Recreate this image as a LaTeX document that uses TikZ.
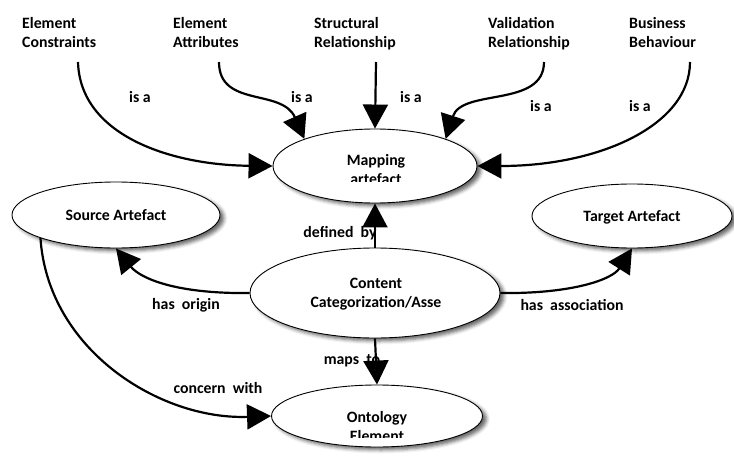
\documentclass[tikz,border=0pt]{standalone}
\usepackage{fontspec}
\setmainfont{Carlito}
\usetikzlibrary{arrows.meta,shapes.geometric,shadows.blur}
\newcommand{\tl}{\rule{0pt}{11.5pt}}
\tikzset{
  lbl/.style={font=\bfseries\fontsize{15.8}{19}\selectfont, inner sep=0pt},
  ell/.style={ellipse, draw, line width=0.9pt, fill=white, inner sep=0pt,
    blur shadow={shadow xshift=4pt, shadow yshift=-3pt, shadow blur radius=3.5pt, shadow opacity=60}},
  arr/.style={line width=2.2pt, -{Triangle[length=24pt,width=25pt]}},
}
\begin{document}
\begin{tikzpicture}[x=1pt,y=-1pt]
\useasboundingbox (0,0) rectangle (734,458);
% ellipses
\node[ell, minimum width=204pt, minimum height=74pt] (map) at (375,166) {};
\node[ell, minimum width=208pt, minimum height=66pt] (src) at (116,215) {};
\node[ell, minimum width=200pt, minimum height=64pt] (tgt) at (632,216) {};
\node[ell, minimum width=250pt, minimum height=90pt] (cont) at (375,293) {};
\node[ell, minimum width=211pt, minimum height=62pt] (onto) at (377,416) {};
% ellipse texts
\begin{scope}
  \clip (270,140) rectangle (480,181);
  \node[lbl, align=center, anchor=north] (mapt) at (376,153.5) {\tl Mapping\\artefact};
\end{scope}
\node[lbl, anchor=base] (srct) at (116,220) {Source Artefact};
\node[lbl, anchor=base] (tgtt) at (632,221) {Target Artefact};
\node[lbl, align=center, anchor=north] (contt) at (376,276.5) {\tl Content\\Categorization/Asse};
\begin{scope}
  \clip (270,395) rectangle (485,437);
  \node[lbl, align=center, anchor=north] (ontot) at (377,410.5) {\tl Ontology\\Element};
\end{scope}
% top labels
\node[lbl, align=left, anchor=north west] (ec) at (22,16.5) {\tl Element\\Constraints};
\node[lbl, align=left, anchor=north west] (ea) at (173,16.5) {\tl Element\\Attributes};
\node[lbl, align=left, anchor=north west] (sr) at (314,16.5) {\tl Structural\\Relationship};
\node[lbl, align=left, anchor=north west] (vr) at (488,16.5) {\tl Validation\\Relationship};
\node[lbl, align=left, anchor=north west] (bb) at (629,16.5) {\tl Business\\Behaviour};
\coordinate (ecs) at (78,62);
\coordinate (eas) at (219,62);
\coordinate (srs) at (376,62);
\coordinate (vrs) at (544,62);
\coordinate (bbs) at (690,62);
% edge labels
\node[lbl] (l1) at (140,97) {is a};
\node[lbl] (l2) at (302,97) {is a};
\node[lbl] (l3) at (411,97) {is a};
\node[lbl] (l4) at (541,106) {is a};
\node[lbl] (l5) at (640,106) {is a};
\node[lbl] (ldef) at (340,233) {defined\ \ by};
\node[lbl] (lorig) at (186,305) {has\ \ origin};
\node[lbl] (lassoc) at (572,305) {has\ \ association};
\node[lbl] (lmaps) at (352,361) {maps\ \ to};
\node[lbl] (lconc) at (218,388) {concern\ \ with};
% arrows
\draw[arr] (ecs) .. controls (80,135) and (170,165) .. (map.west);
\draw[arr] (eas) .. controls (219,108) and (282,88) .. (map.159);
\draw[arr] (srs) -- (map.north);
\draw[arr] (vrs) .. controls (544,108) and (462,88) .. (map.21);
\draw[arr] (bbs) .. controls (690,125) and (600,166) .. (map.east);
\draw[arr] (cont.north) -- (map.south);
\draw[arr] (cont.west) .. controls (175,294) and (140,278) .. (src.south);
\draw[arr] (cont.east) .. controls (570,294) and (612,280) .. (tgt.south);
\draw[arr] (cont.south) -- (onto.north);
\draw[arr] (src.197) .. controls (48,350) and (160,420) .. (onto.west);
\end{tikzpicture}
\end{document}
